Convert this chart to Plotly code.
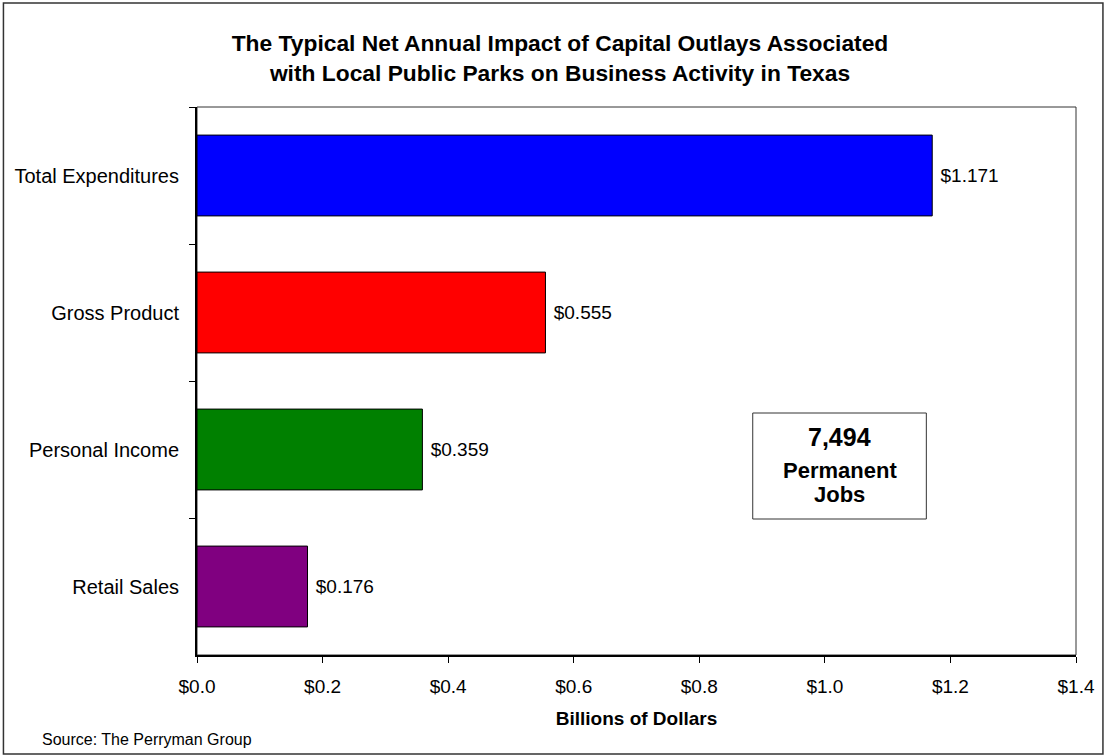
import plotly.graph_objects as go

categories = ["Total Expenditures", "Gross Product", "Personal Income", "Retail Sales"]
values = [1.171, 0.555, 0.359, 0.176]
colors = ["#0000FF", "#FF0000", "#008000", "#800080"]
value_labels = ["$1.171", "$0.555", "$0.359", "$0.176"]
x_ticks = [0.0, 0.2, 0.4, 0.6, 0.8, 1.0, 1.2, 1.4]
x_tick_labels = ["$0.0", "$0.2", "$0.4", "$0.6", "$0.8", "$1.0", "$1.2", "$1.4"]

FONT = "Liberation Sans, Arial, sans-serif"

fig = go.Figure(go.Bar(
    y=categories, x=values, orientation="h",
    marker=dict(color=colors, line=dict(color="black", width=1)),
    width=0.59,
    text=value_labels, texttemplate=" %{text}", textposition="outside",
    textfont=dict(family=FONT, size=19, color="black"),
    cliponaxis=False,
))

W, H = 1107, 756
L, R, T, B = 197, 1078, 107, 655
pw, ph = R - L, B - T

def px(x):
    return (x - L) / pw

def py(y):
    return (B - y) / ph

fig.update_layout(
    width=W, height=H,
    margin=dict(l=L, r=W - R, t=T, b=H - B, pad=0),
    plot_bgcolor="white", paper_bgcolor="white",
    showlegend=False,
    font=dict(family=FONT, size=19, color="black"),
    title=dict(
        text="<b>The Typical Net Annual Impact of Capital Outlays Associated<br>with Local Public Parks on Business Activity in Texas</b>",
        x=560 / W, xanchor="center", y=1 - 51 / H, yanchor="middle",
        font=dict(family=FONT, size=22.8, color="black"),
    ),
    xaxis=dict(
        range=[0, 1.4], tickvals=x_ticks, ticktext=x_tick_labels,
        showgrid=False, zeroline=False,
        showline=True, linecolor="black", linewidth=2,
        ticks="outside", ticklen=6, tickcolor="black",
        ticklabelstandoff=7,
        tickfont=dict(family=FONT, size=19, color="black"),
        title=dict(text="<b>Billions of Dollars</b>", font=dict(family=FONT, size=19, color="black"), standoff=16),
    ),
    yaxis=dict(
        categoryorder="array", categoryarray=categories, autorange="reversed",
        showgrid=False, zeroline=False,
        showline=True, linecolor="black", linewidth=2,
        ticks="outside", ticklen=6, tickcolor="black", tickson="boundaries",
        ticklabelstandoff=12,
        tickfont=dict(family=FONT, size=20, color="black"),
    ),
)

# plot-area border (top/right)
fig.add_shape(type="rect", xref="paper", yref="paper", x0=0, x1=1, y0=0, y1=1,
              line=dict(color="#333333", width=1), layer="below")
# outer figure border
fig.add_shape(type="rect", xref="paper", yref="paper",
              x0=px(3), x1=px(1105), y0=py(754), y1=py(3),
              line=dict(color="#333333", width=1.5))
# jobs box
fig.add_shape(type="rect", xref="paper", yref="paper",
              x0=px(754), x1=px(928), y0=py(519), y1=py(413),
              line=dict(color="#333333", width=1), fillcolor="white")
fig.add_annotation(xref="paper", yref="paper", x=px(841), y=py(437),
                   xanchor="center", yanchor="middle",
                   text="<b>7,494</b>", showarrow=False,
                   font=dict(family=FONT, size=25, color="black"))
fig.add_annotation(xref="paper", yref="paper", x=px(841), y=py(470),
                   xanchor="center", yanchor="middle",
                   text="<b>Permanent</b>", showarrow=False,
                   font=dict(family=FONT, size=22, color="black"))
fig.add_annotation(xref="paper", yref="paper", x=px(841), y=py(494),
                   xanchor="center", yanchor="middle",
                   text="<b>Jobs</b>", showarrow=False,
                   font=dict(family=FONT, size=22, color="black"))
fig.add_annotation(xref="paper", yref="paper", x=px(40), y=py(739),
                   xanchor="left", yanchor="middle",
                   text="Source: The Perryman Group", showarrow=False,
                   font=dict(family=FONT, size=16, color="black"))

fig.write_html("out.html", config={"displayModeBar": False},
               post_script="document.body.style.margin='0';")
